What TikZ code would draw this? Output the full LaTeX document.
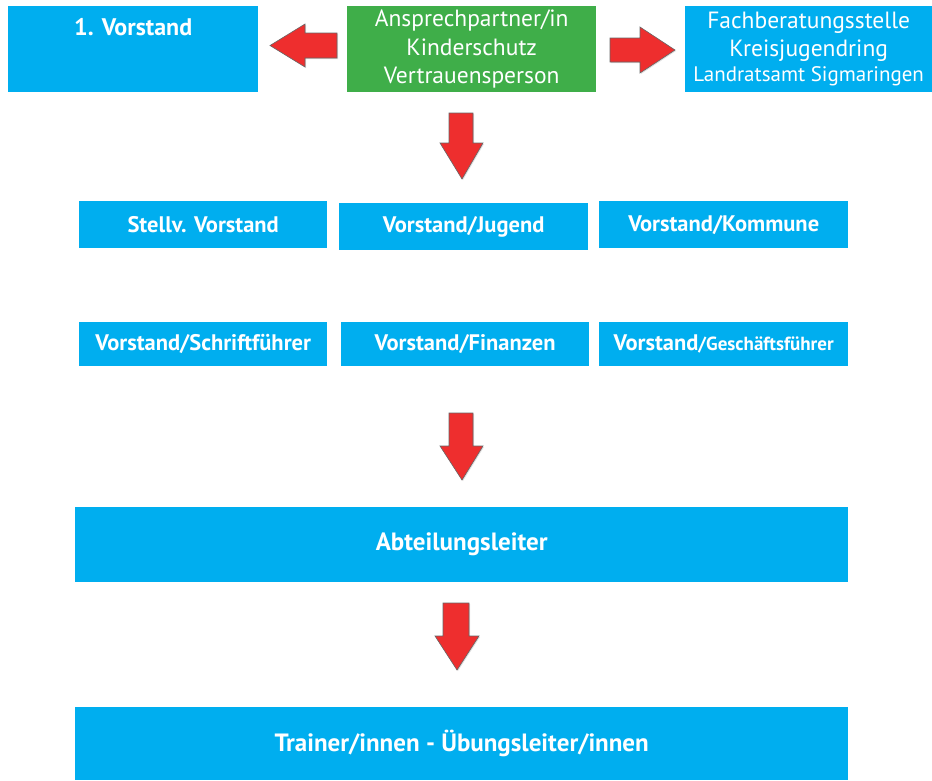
\documentclass[tikz,border=0pt]{standalone}
\usepackage{fontspec}
\setmainfont{PT Sans}
\usetikzlibrary{positioning,shadows}
\definecolor{boxblue}{HTML}{00AEEF}
\definecolor{boxgreen}{HTML}{3FAE49}
\definecolor{arrowred}{HTML}{EE2E2E}

\tikzset{
  orgbox/.style={fill=boxblue, text=white, inner sep=0pt, anchor=north west,
    font=\bfseries\fontsize{22.5}{26}\selectfont},
  widebox/.style={orgbox, font=\bfseries\fontsize{25}{28}\selectfont},
  contactbox/.style={fill=boxgreen, text=white, inner sep=0pt, anchor=north west,
    align=center, font=\fontsize{23.5}{28.5}\selectfont},
  infobox/.style={fill=boxblue, text=white, inner sep=0pt, anchor=north west,
    align=center, font=\fontsize{23.5}{28}\selectfont},
  redarrow/.style={fill=arrowred, draw=black!60, line width=0.6pt, line join=miter,
    drop shadow={shadow xshift=1pt, shadow yshift=-1pt, opacity=0.25}}
}

\begin{document}
\begin{tikzpicture}[x=1pt,y=-1pt]
	\useasboundingbox (0,0) rectangle (932,780);
	% top row
	\node[orgbox, minimum width=250pt, minimum height=86pt,
	  label={[anchor=center, yshift=-21pt, text=white, font=\bfseries\fontsize{24}{28}\selectfont]north:1. Vorstand}]
	  (vorstand) at (8,6) {};
	\node[contactbox, minimum width=249pt, minimum height=86pt] (kinderschutz) at (347,6)
	  {Ansprechpartner/in\\Kinderschutz\\Vertrauensperson};
	\node[infobox, minimum width=247pt, minimum height=86pt] (fachstelle) at (685,6)
	  {Fachberatungsstelle\\Kreisjugendring\\[-3pt]{\fontsize{21}{24}\selectfont Landratsamt Sigmaringen}};
	% arrows from the contact person
	\draw[redarrow] (270,45.5) -- (305,24) -- (305,33) -- (337,33) -- (337,58) -- (305,58) -- (305,67) -- cycle;
	\draw[redarrow] (675,50) -- (640,27) -- (640,38) -- (610,38) -- (610,62) -- (640,62) -- (640,73) -- cycle;
	\draw[redarrow] (462,179) -- (440,143) -- (449,143) -- (449,113) -- (473,113) -- (473,143) -- (483,143) -- cycle;
	% board
	\node[orgbox, minimum width=248pt, minimum height=47pt] (stellv) at (79,201) {Stellv. Vorstand};
	\node[orgbox, minimum width=249pt, minimum height=47pt] (jugend) at (339,203) {Vorstand/Jugend};
	\node[orgbox, minimum width=249pt, minimum height=47pt] (kommune) at (599,201) {Vorstand/Kommune};
	\node[orgbox, minimum width=248pt, minimum height=44pt] (schrift) at (79,322) {Vorstand/Schriftführer};
	\node[orgbox, minimum width=248pt, minimum height=44pt] (finanzen) at (341,322) {Vorstand/Finanzen};
	\node[orgbox, minimum width=249pt, minimum height=44pt] (geschaeft) at (599,322)
	  {Vorstand{\fontsize{19}{22}\selectfont/Geschäftsführer}};
	\draw[redarrow] (462,480) -- (440,446) -- (449,446) -- (449,413) -- (473,413) -- (473,446) -- (483,446) -- cycle;
	% departments
	\node[widebox, minimum width=773pt, minimum height=75pt] (abteilung) at (75,507) {Abteilungsleiter};
	\draw[redarrow] (457,670) -- (435,636) -- (443,636) -- (443,603) -- (469,603) -- (469,636) -- (479,636) -- cycle;
	\node[widebox, minimum width=773pt, minimum height=73pt] (trainer) at (75,707) {Trainer/innen - Übungsleiter/innen};
\end{tikzpicture}
\end{document}
